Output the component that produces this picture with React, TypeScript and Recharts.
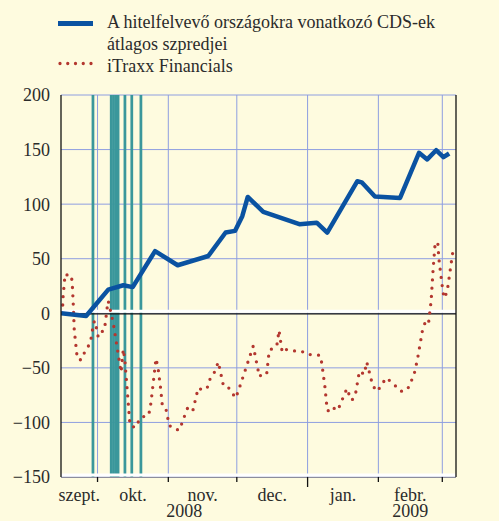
import {
  ComposedChart, Line, XAxis, YAxis, CartesianGrid, ReferenceArea, ReferenceLine,
} from 'recharts'

const FONT = '"Liberation Serif", "Times New Roman", serif'
const BG = '#FEFBDF'
const GRID = '#8E9EE0'
const BLUE = '#0A52A1'
const RED = '#B3372F'
const TEAL = '#3A979B'
const TEXT = '#2B2B2B'

// x: napok 2008. szept. 1. óta
const xDomain = [14, 187]
const monthNames = ['szept.', 'okt.', 'nov.', 'dec.', 'jan.', 'febr.']
const monthStarts = [30, 61, 91, 122, 153, 181] // okt. 1. ... márc. 1.
const years = [
  { label: '2008', nap: 68 },
  { label: '2009', nap: 167 },
]
const yTicks = [-150, -100, -50, 0, 50, 100, 150, 200]

// függőleges sávok (események napjai)
const eventDays = [28, 36, 37, 38, 39, 42, 45, 49]

const cdsDays = [
  14, 25, 34.7, 41.3, 45.4, 55.2, 65.1, 78.5, 86.1, 90.2, 93.4, 95.8, 102.6,
  118.4, 126, 130.6, 143.8, 145.7, 151.5, 162.5, 170.8, 174.4, 178.3, 181.5, 184,
]
const cdsValues = [
  0, -2.5, 21.7, 25.7, 24, 57, 44, 52.5, 74, 75.5, 89, 106.6, 93,
  81.6, 83, 74, 121, 120, 107, 105.7, 147, 141, 149.4, 143, 146.4,
]

const itraxxDays = [
  14.6, 14.9, 15.8, 16.8, 18.4, 18.9, 19.4, 19.8, 20.9, 21.9, 23.3, 24.5, 26.0,
  27.1, 28.3, 28.9, 30.3, 31.2, 33.0, 34.3, 34.7, 35.2, 36.9, 40.3, 41.3, 42.0,
  44.2, 45.2, 47.2, 48.2, 49.6, 52.4, 53.4, 55.6, 56.5, 57.7, 58.4, 60.0, 61.4,
  64.2, 66.1, 67.1, 69.5, 70.3, 71.7, 74.1, 76.3, 78.5, 79.3, 81.2, 82.9, 85.1,
  87.0, 90.5, 91.7, 98.2, 100.9, 102.5, 104.1, 105.2, 108.5, 109.5, 110.9, 112.9,
  116.1, 119.4, 121.6, 127.4, 128.2, 129.6, 130.6, 131.4, 132.6, 135.2, 139.2,
  140.1, 141.4, 142.9, 144.7, 146.8, 147.9, 150.5, 152.3, 154.5, 156.2, 158.4,
  162.9, 165.7, 168.6, 170.1, 172.5, 173.5, 174.9, 176.1, 177.0, 177.8, 179.0,
  179.5, 181.2, 181.8, 183.1, 185.6,
]
const itraxxValues = [
  0, 15, 36, 35, 35, 29, 7, -15, -37, -43, -42, -34.5, -30,
  -24, -8.5, -7, -21.7, -17.7, -15.6, 6.4, 11.3, 6.7, -9, -54, -33, -44,
  -102, -104, -104, -97, -95, -93.5, -82, -41.5, -50, -70, -85, -88, -102.7,
  -106.6, -106.6, -99.6, -86.5, -88, -89.5, -68.4, -70.6, -67, -60, -54, -44.6, -66,
  -67, -77.6, -71, -30, -58, -54.7, -55.3, -34, -30, -15.6, -36, -33,
  -34.5, -34.8, -37.6, -38.5, -45.5, -67.5, -89, -89.5, -86, -89, -69,
  -74, -79.7, -75, -53, -55.9, -44.6, -66, -71.5, -66, -59.3, -62.3,
  -71.5, -70, -56.5, -42.4, -13.4, -8.6, -10.4, 11.3, 41, 62.3, 65.4,
  50, 21, 14, 19.5, 56.2,
]

const cdsData = cdsDays.map((nap, i) => ({ nap, v: cdsValues[i] }))
const itraxxData = itraxxDays.map((nap, i) => ({ nap, v: itraxxValues[i] }))

// x tengely: hónaphatárok (osztásjel), hónapnevek a sávok közepén, évszámok
type TickInfo = { edge?: boolean; yearEdge?: boolean; month?: string; year?: string }
const tickInfo = new Map<number, TickInfo>()
const addInfo = (v: number, info: TickInfo) => tickInfo.set(v, { ...(tickInfo.get(v) ?? {}), ...info })
monthStarts.forEach((v, i) => addInfo(v, { edge: true, yearEdge: monthNames[i + 1] === 'jan.' }))
const edges = [xDomain[0], ...monthStarts]
monthNames.forEach((m, i) => addInfo((edges[i] + edges[i + 1]) / 2, { month: m }))
years.forEach(y => addInfo(y.nap, { year: y.label }))
const xTicks = [...tickInfo.keys()].sort((a, b) => a - b)

const fmt = (v: number) => (v < 0 ? `\u2212${Math.abs(v)}` : String(v))

function XTick(props: any) {
  const { x, y, payload } = props
  const info = tickInfo.get(payload.value) ?? {}
  return (
    <g>
      {info.edge && (
        <line x1={x} x2={x} y1={y} y2={y + (info.yearEdge ? 10 : 5)} stroke="#111" strokeWidth={1.3} />
      )}
      {(info.month || info.year) && (
        <text x={x} y={y + 24} textAnchor="middle" fill={TEXT} fontSize={18} fontFamily={FONT}>
          {info.month && <tspan x={x}>{info.month}</tspan>}
          {info.year && <tspan x={x} dy={info.month ? 16 : 16}>{info.year}</tspan>}
        </text>
      )}
    </g>
  )
}

function RightTick(props: any) {
  const { x, y, payload } = props
  return (
    <text x={x + 40} y={y} dy="0.355em" textAnchor="end" fill={TEXT} fontSize={18} fontFamily={FONT}>
      {fmt(payload.value)}
    </text>
  )
}

// fehér sáv a vonal fölött, alatta vékony vonal
const bandLine = (color: string) => (p: any) => (
  <g>
    <line x1={p.x1} x2={p.x2} y1={p.y1 - 2} y2={p.y2 - 2} stroke="#fff" strokeWidth={3} />
    <line x1={p.x1} x2={p.x2} y1={p.y1 + 0.5} y2={p.y2 + 0.5} stroke={color} strokeWidth={1.2} />
  </g>
)

function Legend() {
  return (
    <div style={{ position: 'absolute', left: 0, top: 0, width: 499, height: 90, pointerEvents: 'none' }}>
      <svg width={499} height={90} style={{ position: 'absolute', left: 0, top: 0 }}>
        <line x1={58} x2={93} y1={23.5} y2={23.5} stroke={BLUE} strokeWidth={5} />
        <line x1={60} x2={92} y1={63.5} y2={63.5} stroke={RED} strokeWidth={3.3}
          strokeDasharray="0 7.75" strokeLinecap="round" />
      </svg>
      <div style={{
        position: 'absolute', left: 107, top: 11, fontFamily: FONT, fontSize: 18,
        lineHeight: '22px', color: TEXT, whiteSpace: 'nowrap',
      }}>
        <div>A hitelfelvevő országokra vonatkozó CDS-ek</div>
        <div>átlagos szpredjei</div>
        <div>iTraxx Financials</div>
      </div>
    </div>
  )
}

export default function App() {
  return (
    <div style={{ position: 'absolute', left: 0, top: 0, width: 499, height: 521, background: BG, overflow: 'hidden' }}>
      <Legend />
      <ComposedChart width={499} height={521} margin={{ top: 95, right: 0, bottom: 0, left: 0 }}>
        <CartesianGrid yAxisId="left" vertical={false} stroke={GRID} strokeWidth={1} />
        <XAxis
          xAxisId="x"
          dataKey="nap"
          type="number"
          scale="linear"
          domain={xDomain}
          ticks={xTicks}
          interval={0}
          allowDataOverflow
          height={44}
          axisLine={false}
          tickLine={false}
          tickSize={0}
          tickMargin={0}
          tick={XTick}
        />
        <YAxis
          yAxisId="left"
          domain={[-150, 200]}
          ticks={yTicks}
          interval={0}
          width={61}
          axisLine={{ stroke: '#111', strokeWidth: 1.3 }}
          tickLine={false}
          tickSize={0}
          tickMargin={11}
          tickFormatter={fmt}
          tick={{ fill: TEXT, fontSize: 18, fontFamily: FONT }}
        />
        <YAxis
          yAxisId="right"
          orientation="right"
          domain={[-150, 200]}
          ticks={yTicks}
          interval={0}
          width={43}
          axisLine={{ stroke: '#111', strokeWidth: 1.3 }}
          tickLine={false}
          tickSize={0}
          tickMargin={0}
          tick={RightTick}
        />
        {monthStarts.map(d => (
          <ReferenceLine key={`g${d}`} xAxisId="x" yAxisId="left" x={d} stroke={GRID} strokeWidth={1} zIndex={-90} />
        ))}
        {eventDays.map(d => (
          <ReferenceArea key={`e${d}`} xAxisId="x" yAxisId="left" x1={d - 0.6} x2={d + 0.6}
            fill={TEAL} fillOpacity={1} stroke="none" zIndex={50} />
        ))}
        <ReferenceLine xAxisId="x" yAxisId="left" y={-150} shape={bandLine('#8C8C9C')} zIndex={60} />
        <ReferenceLine xAxisId="x" yAxisId="left" y={0} shape={bandLine('#111')} zIndex={60} />
        <Line
          xAxisId="x"
          yAxisId="left"
          data={itraxxData}
          dataKey="v"
          type="linear"
          stroke={RED}
          strokeWidth={3.3}
          strokeDasharray="0 8.3"
          strokeLinecap="round"
          dot={false}
          activeDot={false}
          isAnimationActive={false}
          zIndex={400}
        />
        <Line
          xAxisId="x"
          yAxisId="left"
          data={cdsData}
          dataKey="v"
          type="linear"
          stroke={BLUE}
          strokeWidth={4.5}
          strokeLinejoin="round"
          dot={false}
          activeDot={false}
          isAnimationActive={false}
          zIndex={410}
        />
      </ComposedChart>
    </div>
  )
}
